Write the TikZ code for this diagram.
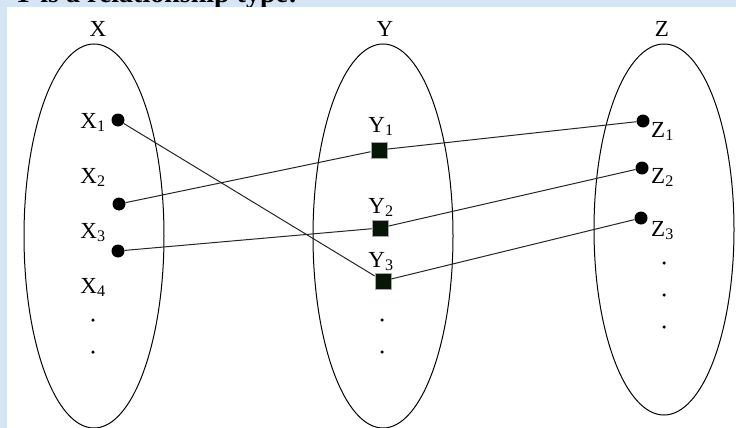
\documentclass[tikz,border=0pt]{standalone}
\usepackage{fontspec}
\setmainfont{Liberation Serif}
\usetikzlibrary{shapes.geometric}

\definecolor{slideblue}{RGB}{213,229,245}
\definecolor{boxfill}{RGB}{8,22,8}

\begin{document}
\begin{tikzpicture}[
  x=1pt, y=-1pt,
  font=\fontsize{23}{27}\selectfont,
  setell/.style={draw, ellipse, line width=1pt, minimum width=140pt, inner sep=0pt},
  dot/.style={circle, fill=black, minimum size=13pt, inner sep=0pt},
  relbox/.style={rectangle, fill=boxfill, draw=gray!70, line width=0.8pt, minimum width=16pt, minimum height=16pt, inner sep=0pt},
  lbl/.style={anchor=base, inner sep=0pt},
  more/.style={circle, fill=black, minimum size=3.5pt, inner sep=0pt},
  link/.style={draw=black!85, line width=1pt}
]
\useasboundingbox (0,0) rectangle (736,428);
\fill[slideblue] (0,0) rectangle (736,428);
\begin{scope}
  \clip (0,0) rectangle (736,428);
  \node[anchor=base west, inner sep=0pt, font=\fontsize{28}{30}\selectfont\bfseries] (title) at (13,3) {Y is a relationship type:};
\end{scope}
\fill[white] (7,7) rectangle (736,428);

% the three sets
\node[setell, minimum height=384pt] (setx) at (94,236) {};
\node[setell, minimum height=384pt] (sety) at (383,236) {};
\node[setell, minimum height=371pt] (setz) at (664,229.5) {};
\node[lbl] (hx) at (98,37) {X};
\node[lbl] (hy) at (385,37) {Y};
\node[lbl] (hz) at (662,37) {Z};

% entities of X
\node[lbl] (lx1) at (93,128) {X\textsubscript{1}};
\node[lbl] (lx2) at (93,183) {X\textsubscript{2}};
\node[lbl] (lx3) at (93,238) {X\textsubscript{3}};
\node[lbl] (lx4) at (93,293) {X\textsubscript{4}};
\node[dot] (x1) at (118,120) {};
\node[dot] (x2) at (119,204) {};
\node[dot] (x3) at (118,251) {};
\node[more] (xm1) at (93,320) {};
\node[more] (xm2) at (93,352) {};

% relationship instances
\node[lbl] (ly1) at (381,132) {Y\textsubscript{1}};
\node[lbl] (ly2) at (381,213) {Y\textsubscript{2}};
\node[lbl] (ly3) at (381,267) {Y\textsubscript{3}};
\node[relbox] (y1) at (379,150) {};
\node[relbox] (y2) at (380,228) {};
\node[relbox] (y3) at (383,281) {};
\node[more] (ym1) at (382,320) {};
\node[more] (ym2) at (382,352) {};

% entities of Z
\node[lbl, anchor=base west] (lz1) at (651,137) {Z\textsubscript{1}};
\node[lbl, anchor=base west] (lz2) at (651,183) {Z\textsubscript{2}};
\node[lbl, anchor=base west] (lz3) at (651,236) {Z\textsubscript{3}};
\node[dot] (z1) at (643,121) {};
\node[dot] (z2) at (642,168) {};
\node[dot] (z3) at (641,218) {};
\node[more] (zm1) at (664,263) {};
\node[more] (zm2) at (664,295) {};
\node[more] (zm3) at (664,327) {};

\draw[link] (x1) -- (y3);
\draw[link] (x2) -- (y1);
\draw[link] (x3) -- (y2);
\draw[link] (y1) -- (z1);
\draw[link] (y2) -- (z2);
\draw[link] (y3) -- (z3);
\end{tikzpicture}
\end{document}
